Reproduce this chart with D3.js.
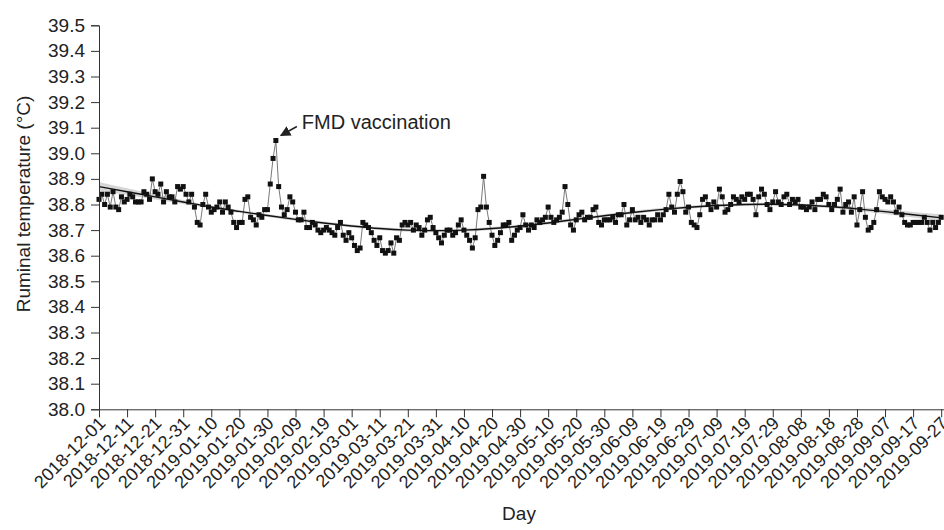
<!DOCTYPE html>
<html><head><meta charset="utf-8">
<script src="https://cdn.jsdelivr.net/npm/d3@7"></script>
<style>
body{margin:0;background:#fff}
text{font-family:"Liberation Sans",Arial,sans-serif;fill:#222}
</style>
</head><body>
<svg id="chart" width="944" height="530"></svg>
<script>
// ---------- data ----------
const startDate = "2018-12-01";
// daily ruminal temperature (°C), one value per day from startDate
const temps = [
 38.82,38.84,38.80,38.84,38.79,38.85,38.79,38.78,38.83,38.81,
 38.82,38.84,38.83,38.81,38.81,38.81,38.85,38.84,38.82,38.90,
 38.85,38.84,38.88,38.81,38.85,38.83,38.83,38.81,38.87,38.86,
 38.87,38.84,38.81,38.84,38.79,38.73,38.72,38.80,38.84,38.79,
 38.77,38.78,38.79,38.81,38.77,38.81,38.79,38.77,38.73,38.71,
 38.73,38.73,38.82,38.83,38.75,38.74,38.72,38.76,38.75,38.78,
 38.78,38.88,38.98,39.05,38.87,38.79,38.76,38.78,38.83,38.81,
 38.77,38.74,38.74,38.77,38.71,38.71,38.73,38.72,38.70,38.69,
 38.70,38.71,38.70,38.69,38.68,38.71,38.73,38.68,38.66,38.69,
 38.67,38.64,38.62,38.63,38.73,38.72,38.71,38.69,38.66,38.64,
 38.67,38.62,38.61,38.62,38.65,38.61,38.67,38.66,38.72,38.73,
 38.72,38.73,38.70,38.72,38.71,38.68,38.70,38.74,38.75,38.71,
 38.69,38.67,38.65,38.68,38.70,38.70,38.68,38.69,38.72,38.74,
 38.70,38.68,38.66,38.63,38.67,38.78,38.79,38.91,38.79,38.73,
 38.68,38.64,38.66,38.69,38.72,38.72,38.73,38.66,38.68,38.70,
 38.71,38.76,38.72,38.70,38.72,38.71,38.74,38.73,38.74,38.75,
 38.79,38.75,38.73,38.74,38.75,38.77,38.87,38.80,38.72,38.70,
 38.74,38.76,38.77,38.74,38.75,38.75,38.78,38.79,38.73,38.72,
 38.74,38.74,38.74,38.75,38.73,38.76,38.76,38.80,38.72,38.74,
 38.78,38.74,38.75,38.73,38.75,38.74,38.72,38.74,38.74,38.76,
 38.74,38.76,38.78,38.84,38.79,38.77,38.84,38.89,38.85,38.77,
 38.79,38.73,38.72,38.71,38.76,38.82,38.83,38.80,38.78,38.81,
 38.79,38.86,38.83,38.77,38.78,38.80,38.83,38.82,38.81,38.83,
 38.82,38.84,38.84,38.82,38.76,38.83,38.86,38.84,38.80,38.78,
 38.81,38.85,38.81,38.80,38.83,38.84,38.80,38.82,38.81,38.82,
 38.79,38.79,38.78,38.79,38.81,38.78,38.82,38.82,38.84,38.83,
 38.80,38.78,38.80,38.82,38.86,38.77,38.80,38.81,38.77,38.83,
 38.72,38.78,38.85,38.75,38.70,38.71,38.73,38.78,38.85,38.83,
 38.82,38.81,38.83,38.81,38.77,38.79,38.76,38.73,38.72,38.72,
 38.73,38.73,38.73,38.73,38.75,38.73,38.70,38.73,38.71,38.73,
 38.75
];
// smoothed trend (every 10 days)
const fitDays = [0,10,20,30,40,50,60,70,80,90,100,110,120,130,140,150,160,170,180,190,200,210,220,230,240,250,260,270,280,290,300];
const fitValues = [38.870,38.850,38.830,38.810,38.790,38.773,38.757,38.742,38.728,38.716,38.706,38.700,38.698,38.700,38.706,38.716,38.728,38.742,38.756,38.769,38.780,38.789,38.796,38.800,38.801,38.798,38.792,38.783,38.772,38.760,38.748];
const fitHalfBand = [0.018,0.013,0.010,0.008,0.006,0.006,0.006,0.006,0.006,0.006,0.006,0.006,0.006,0.006,0.006,0.006,0.006,0.006,0.006,0.006,0.006,0.006,0.006,0.006,0.006,0.006,0.006,0.007,0.009,0.011,0.014];

const yTicks = [38.0,38.1,38.2,38.3,38.4,38.5,38.6,38.7,38.8,38.9,39.0,39.1,39.2,39.3,39.4,39.5];
const xTickLabels = ["2018-12-01","2018-12-11","2018-12-21","2018-12-31","2019-01-10","2019-01-20","2019-01-30","2019-02-09","2019-02-19","2019-03-01","2019-03-11","2019-03-21","2019-03-31","2019-04-10","2019-04-20","2019-04-30","2019-05-10","2019-05-20","2019-05-30","2019-06-09","2019-06-19","2019-06-29","2019-07-09","2019-07-19","2019-07-29","2019-08-08","2019-08-18","2019-08-28","2019-09-07","2019-09-17","2019-09-27"];
const annotationText = "FMD vaccination";
const annotationDate = "2019-02-02";
const yTitle = "Ruminal temperature (\u00B0C)";
const xTitle = "Day";

// ---------- drawing ----------
const parse = d3.utcParse("%Y-%m-%d");
const fmt = d3.utcFormat("%Y-%m-%d");
const t0 = parse(startDate);
const series = temps.map((v,i)=>({date:d3.utcDay.offset(t0,i), v}));
const fit = fitDays.map((d,i)=>({date:d3.utcDay.offset(t0,d), v:fitValues[i], lo:fitValues[i]-fitHalfBand[i], hi:fitValues[i]+fitHalfBand[i]}));

const svg = d3.select("#chart");
const x = d3.scaleUtc().domain([t0, parse("2019-09-28")]).range([99, 944]);
const y = d3.scaleLinear().domain([38.0, 39.5]).range([409.3, 25.3]);

// confidence band
svg.append("path")
  .datum(fit)
  .attr("d", d3.area().x(d=>x(d.date)).y0(d=>y(d.lo)).y1(d=>y(d.hi)).curve(d3.curveMonotoneX))
  .attr("fill","#d6d6d6");

// connecting line
svg.append("path")
  .datum(series)
  .attr("d", d3.line().x(d=>x(d.date)).y(d=>y(d.v)))
  .attr("fill","none").attr("stroke","#6a6a6a").attr("stroke-width",0.9);

// trend line
svg.append("path")
  .datum(fit)
  .attr("d", d3.line().x(d=>x(d.date)).y(d=>y(d.v)).curve(d3.curveMonotoneX))
  .attr("fill","none").attr("stroke","#111").attr("stroke-width",1.4);

// points
const s = 5;
svg.append("g").selectAll("rect").data(series).join("rect")
  .attr("x", d=>x(d.date)-s/2).attr("y", d=>y(d.v)-s/2)
  .attr("width", s).attr("height", s).attr("fill","#111");

// y axis
const yAxis = svg.append("g").attr("transform","translate(99,0)")
  .call(d3.axisLeft(y).tickValues(yTicks).tickFormat(d3.format(".1f")).tickSize(8).tickPadding(6));
yAxis.select(".domain").attr("stroke","#333");
yAxis.selectAll(".tick line").attr("stroke","#333");
yAxis.selectAll("text").style("font-size","19px").attr("fill","#222");

// x axis
const xTicks = xTickLabels.map(parse);
const xAxis = svg.append("g").attr("transform","translate(0,409.3)")
  .call(d3.axisBottom(x).tickValues(xTicks).tickFormat(fmt).tickSize(8).tickSizeOuter(0));
xAxis.select(".domain").attr("stroke","#333");
xAxis.selectAll(".tick line").attr("stroke","#333");
xAxis.selectAll("text")
  .style("font-size","18px").attr("fill","#222")
  .attr("text-anchor","end")
  .attr("x",0).attr("y",0).attr("dy",0)
  .attr("transform","translate(7,15) rotate(-45)");

// axis titles
svg.append("text").attr("transform","translate(30,204) rotate(-90)")
  .attr("text-anchor","middle").style("font-size","19px").text(yTitle);
svg.append("text").attr("x",519).attr("y",520)
  .attr("text-anchor","middle").style("font-size","19px").text(xTitle);

// annotation
const ad = parse(annotationDate);
const peak = series.find(d=>+d.date===+ad);
const px = x(peak.date), py = y(peak.v);
svg.append("defs").append("marker").attr("id","arr")
  .attr("viewBox","0 0 10 10").attr("refX",9).attr("refY",5)
  .attr("markerWidth",7).attr("markerHeight",7).attr("orient","auto")
  .append("path").attr("d","M0,0 L10,5 L0,10 Z").attr("fill","#222");
svg.append("line")
  .attr("x1",px+21).attr("y1",py-14).attr("x2",px+5).attr("y2",py-5)
  .attr("stroke","#222").attr("stroke-width",1.5).attr("marker-end","url(#arr)");
svg.append("text").attr("x",px+26).attr("y",py-12)
  .style("font-size","20px").text(annotationText);
</script>
</body></html>
